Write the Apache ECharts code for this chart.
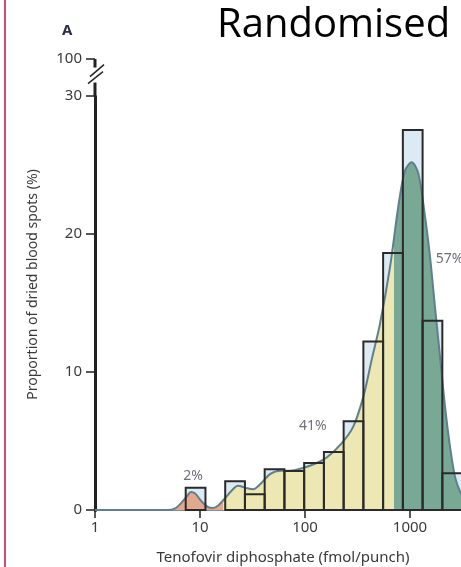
<!DOCTYPE html>
<html>
<head>
<meta charset="utf-8">
<script src="https://cdn.jsdelivr.net/npm/echarts@6/dist/echarts.min.js"></script>
<style>
  html, body { margin: 0; padding: 0; background: #fff; }
  #chart { width: 461px; height: 567px; }
</style>
</head>
<body>
<div id="chart"></div>
<script>
// Histogram bins (fmol/punch, equal widths on a log10 scale) and share of spots per bin (%)
const binEdges = [7.31, 11.27, 17.38, 26.79, 41.30, 63.68, 98.17, 151.4, 233.3, 359.7, 554.6, 855.1, 1318, 2032, 3133];
const binHeights = [1.62, 0, 2.08, 1.14, 2.95, 2.83, 3.41, 4.21, 6.44, 12.21, 18.63, 27.54, 13.72, 2.66];

// Smoothed density estimate over the same axis
const curveX = [1, 4.9, 5.8, 6.7, 7.5, 8.2, 9.0, 9.8, 10.9, 12.0, 13.3, 15.0, 17.3, 20.0, 23.0, 27.4, 32.0, 38.9, 46.4, 57.8, 71.9, 95.7, 124.5, 161, 224, 288, 359, 432, 518, 645, 774, 896, 1038, 1200, 1389, 1549, 1730, 1932, 2155, 2405, 2684, 3060, 3600, 4400, 6000];
const curveY = [0, 0, 0.12, 0.55, 1.0, 1.3, 1.2, 0.85, 0.45, 0.2, 0.15, 0.35, 0.85, 1.4, 1.75, 1.6, 1.5, 2.0, 2.6, 2.85, 2.85, 3.05, 3.35, 3.8, 4.85, 6.04, 8.2, 10.9, 13.5, 17.6, 22.0, 24.6, 25.2, 24.4, 21.3, 18.4, 14.7, 11.1, 7.5, 4.6, 2.4, 1.2, 0.45, 0.1, 0];

// Concentration bands under the curve and their shares
const bandLimits = [16.6, 700];
const bandColors = ['#e3a88d', '#ede8b3', '#79a995'];
const bandLabels = ['2%', '41%', '57%'];
const bandLabelX = [8.6, 119, 2377];
const bandLabelY = [2.47, 6.1, 18.2];

// Axis settings
const xMin = 1, xMax = 10000;
const yMin = 0, yMax = 100, yStep = 10;
const yBreak = [30, 100];
const yBreakGap = 2.69;

const TEXT = '#3a3a3a';
const INK = '#222';
const FONT = 'Noto Sans';

const bins = binHeights.map((h, i) => [binEdges[i], binEdges[i + 1], h]);
const curve = curveX.map((x, i) => [x, curveY[i]]);
const bandLabelData = bandLabelX.map((x, i) => [x, bandLabelY[i]]);

function binRect(fill, stroke, lineWidth) {
  return function (params, api) {
    const h = api.value(2);
    if (!h) return null;
    const p0 = api.coord([api.value(0), h]);
    const p1 = api.coord([api.value(1), 0]);
    return {
      type: 'rect',
      shape: { x: p0[0], y: p0[1], width: p1[0] - p0[0], height: p1[1] - p0[1] },
      style: { fill: fill, stroke: stroke, lineWidth: lineWidth }
    };
  };
}

const chart = echarts.init(document.getElementById('chart'), null, { renderer: 'canvas' });

chart.setOption({
  animation: false,
  backgroundColor: '#fff',
  title: [
    { text: 'Randomised', left: 217, top: 6, padding: 0,
      textStyle: { fontFamily: 'Open Sans', fontSize: 40, fontWeight: 'normal', color: '#000' } },
    { text: 'A', left: 62, top: 23, padding: 0,
      textStyle: { fontFamily: FONT, fontSize: 15, fontWeight: 'bold', color: '#2c2c44' } }
  ],
  grid: { left: 95, right: -54, top: 59, bottom: 57, outerBoundsMode: 'none', containLabel: false },
  xAxis: {
    type: 'log', logBase: 10, min: xMin, max: xMax,
    axisLine: { show: true, lineStyle: { color: '#7f9098', width: 2 } },
    axisTick: { show: true, length: 8, lineStyle: { color: INK, width: 1.5 } },
    minorTick: { show: false },
    axisLabel: { fontFamily: FONT, fontSize: 15, color: TEXT, margin: 10,
      formatter: v => String(Math.round(v)) },
    splitLine: { show: false }
  },
  yAxis: {
    type: 'value', min: yMin, max: yMax, interval: yStep,
    breaks: [{ start: yBreak[0], end: yBreak[1], gap: yBreakGap }],
    breakArea: { show: false },
    name: 'Proportion of dried blood spots (%)',
    nameLocation: 'middle', nameGap: 55,
    nameTextStyle: { fontFamily: FONT, fontSize: 14, color: TEXT },
    axisLine: { show: true, lineStyle: { color: INK, width: 3 } },
    axisTick: { show: true, length: 9, lineStyle: { color: INK, width: 1.5 } },
    axisLabel: { fontFamily: FONT, fontSize: 15, color: TEXT, margin: 13 },
    splitLine: { show: false }
  },
  visualMap: {
    type: 'piecewise', show: false, dimension: 0, seriesIndex: 1,
    pieces: [
      { lt: bandLimits[0], color: bandColors[0] },
      { gte: bandLimits[0], lt: bandLimits[1], color: bandColors[1] },
      { gte: bandLimits[1], color: bandColors[2] }
    ]
  },
  series: [
    { // bin fills
      type: 'custom', z: 1, data: bins, encode: { x: [0, 1], y: 2 },
      renderItem: binRect('#dcebf3', null, 0)
    },
    { // shaded density bands
      type: 'line', z: 2, data: curve, smooth: 0.3, symbol: 'none',
      lineStyle: { width: 0 }, areaStyle: { opacity: 1 }
    },
    { // density outline
      type: 'line', z: 3, data: curve, smooth: 0.3, symbol: 'none',
      lineStyle: { color: '#5f7f8c', width: 2 }
    },
    { // bin outlines
      type: 'custom', z: 4, data: bins, encode: { x: [0, 1], y: 2 },
      renderItem: binRect('none', '#2a2a2a', 2)
    },
    { // band shares
      type: 'scatter', z: 5, data: bandLabelData, symbolSize: 0,
      label: { show: true, position: 'inside', formatter: p => bandLabels[p.dataIndex],
        fontFamily: FONT, fontSize: 14, color: '#4a4a58' }
    }
  ]
});

// Page rule, x-axis title centred under the visible part of the axis, and the y-axis break marks
const yLo = chart.convertToPixel({ yAxisIndex: 0 }, yBreak[0]);
const yHi = chart.convertToPixel({ yAxisIndex: 0 }, yBreak[1]);
const y0 = chart.convertToPixel({ yAxisIndex: 0 }, yMin);
const ax = chart.convertToPixel({ xAxisIndex: 0 }, xMin);
const mid = (yLo + yHi) / 2;
chart.setOption({
  graphic: [
    { type: 'rect', shape: { x: 4, y: 0, width: 2, height: 567 }, style: { fill: '#c9506b' }, z: 100 },
    { type: 'text', x: 283, y: y0 + 48, style: { text: 'Tenofovir diphosphate (fmol/punch)',
        fontFamily: FONT, fontSize: 15, fill: TEXT, align: 'center', verticalAlign: 'middle' }, z: 100 },
    { type: 'line', shape: { x1: ax, y1: yHi, x2: ax, y2: mid - 10 }, style: { stroke: INK, lineWidth: 3 }, z: 100 },
    { type: 'line', shape: { x1: ax, y1: mid + 5, x2: ax, y2: yLo }, style: { stroke: INK, lineWidth: 3 }, z: 100 },
    { type: 'line', shape: { x1: ax - 5, y1: mid - 1, x2: ax + 9, y2: mid - 13 }, style: { stroke: INK, lineWidth: 1.5 }, z: 101 },
    { type: 'line', shape: { x1: ax - 7, y1: mid + 6, x2: ax + 8, y2: mid - 6 }, style: { stroke: INK, lineWidth: 1.5 }, z: 101 }
  ]
});
</script>
</body>
</html>
